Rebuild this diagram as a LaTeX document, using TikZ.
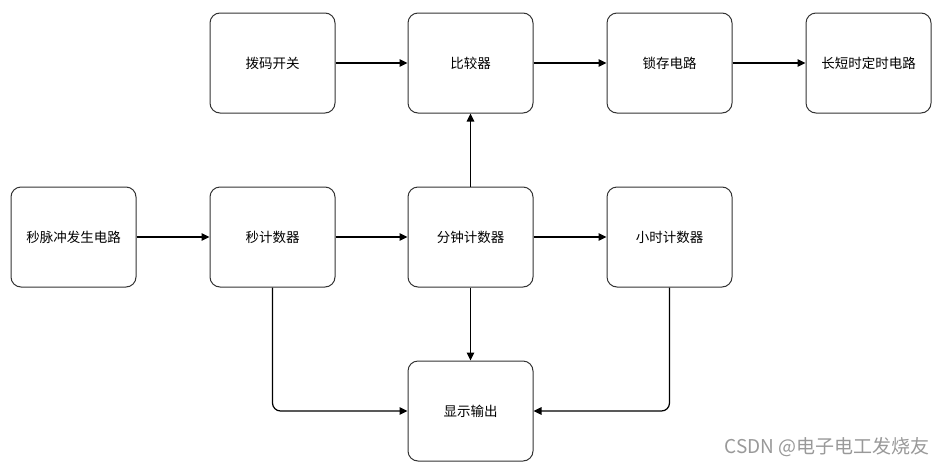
\documentclass[tikz,border=0pt]{standalone}
\usepackage{fontspec}
\setmainfont{Noto Sans CJK SC}
\newfontfamily\cjk{Noto Sans CJK SC}
\usetikzlibrary{arrows.meta}
\begin{document}
\begin{tikzpicture}[x=1pt,y=-1pt,
  blk/.style={draw=black!80, line width=1pt, rounded corners=10pt, minimum width=125pt, minimum height=100pt, inner sep=0pt, font=\cjk\fontsize{13.5}{15}\selectfont, fill=white},
  conn/.style={draw=black, line width=1.2pt, -{Triangle[length=8pt,width=7.5pt]}},
  elbow/.style={conn, rounded corners=8pt}]
\useasboundingbox[fill=white] (0,0) rectangle (944,469);
\node[blk] (bm) at (272.5,63) {拨码开关};
\node[blk] (bj) at (470.5,63) {比较器};
\node[blk] (sc) at (669.5,63) {锁存电路};
\node[blk] (cd) at (868.5,63) {长短时定时电路};
\node[blk] (mc) at (73.5,237) {秒脉冲发生电路};
\node[blk] (sj) at (272.5,237) {秒计数器};
\node[blk] (fz) at (470.5,237) {分钟计数器};
\node[blk] (xs) at (669.5,237) {小时计数器};
\node[blk] (xo) at (470.5,411) {显示输出};
\draw[conn] (bm) -- (bj);
\draw[conn] (bj) -- (sc);
\draw[conn] (sc) -- (cd);
\draw[conn] (mc) -- (sj);
\draw[conn] (sj) -- (fz);
\draw[conn] (fz) -- (xs);
\draw[conn] (fz) -- (bj);
\draw[conn] (fz) -- (xo);
\draw[elbow] (sj.south) |- (xo.west);
\draw[elbow] (xs.south) |- (xo.east);
\node[font=\cjk\fontsize{19}{21}\selectfont, text=black!40, anchor=east, inner sep=0pt] (wm) at (930,447) {CSDN @电子电工发烧友};
\end{tikzpicture}
\end{document}
